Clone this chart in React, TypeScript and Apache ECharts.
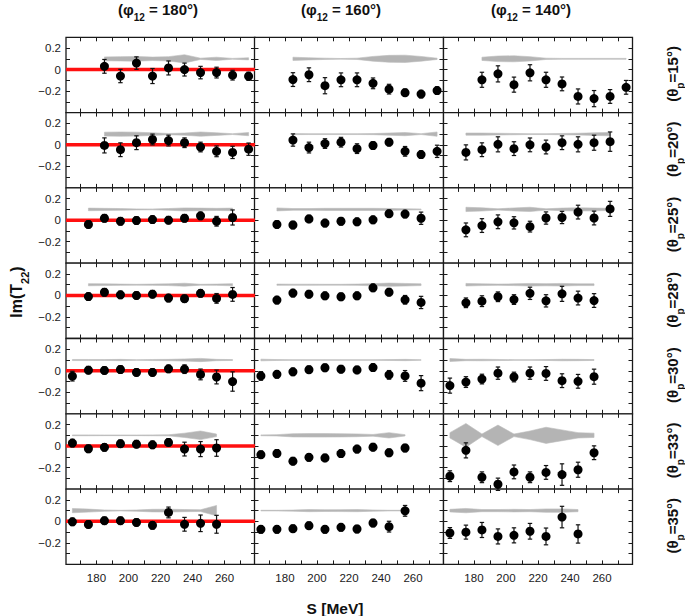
import React, { useEffect, useRef } from 'react';
import * as echarts from 'echarts';

// ---------- labels ----------
const phiLabels = ['180°', '160°', '140°'];
const thetaLabels = ['15°', '20°', '25°', '28°', '30°', '33°', '35°'];
const xTickValues = [170, 180, 190, 200, 210, 220, 230, 240, 250, 260, 270];
const xLabelValues = [180, 200, 220, 240, 260];
const yTickValues = [-0.3, -0.2, -0.1, 0, 0.1, 0.2];
const yLabelValues = [-0.2, 0, 0.2];

// first S value [MeV] of each panel (rows: theta_p, cols: phi_12), step 10 MeV
const startS = [
  [185, 185, 185],
  [185, 185, 175],
  [175, 175, 175],
  [175, 175, 175],
  [165, 165, 165],
  [165, 165, 165],
  [165, 165, 165],
];

// ---------- Im(T22) values ----------
const val15 = [
  [0.03, -0.06, 0.06, -0.06, 0.015, 0.0, -0.028, -0.028, -0.052, -0.062],
  [-0.093, -0.048, -0.15, -0.095, -0.095, -0.128, -0.182, -0.215, -0.228, -0.195],
  [-0.095, -0.04, -0.14, -0.03, -0.095, -0.133, -0.25, -0.27, -0.25, -0.165],
];
const val20 = [
  [-0.005, -0.045, 0.02, 0.05, 0.04, 0.02, -0.02, -0.06, -0.07, -0.04],
  [0.045, -0.025, 0.012, 0.025, -0.035, -0.006, 0.025, -0.06, -0.09, -0.06],
  [-0.07, -0.045, 0.005, -0.035, 0.0, -0.02, 0.02, 0.005, 0.02, 0.03],
];
const val25 = [
  [-0.04, 0.018, -0.01, -0.003, 0.006, 0.0, 0.018, 0.04, -0.01, 0.025],
  [-0.04, -0.045, 0.012, -0.027, -0.01, -0.015, 0.003, 0.06, 0.057, 0.018],
  [-0.09, -0.05, -0.015, -0.025, -0.06, 0.02, 0.025, 0.075, 0.02, 0.105],
];
const val28 = [
  [-0.01, 0.03, 0.006, 0.0, 0.012, -0.024, -0.03, 0.02, -0.027, 0.01],
  [-0.043, 0.022, 0.012, -0.003, -0.012, -0.003, 0.071, 0.031, -0.04, -0.065],
  [-0.068, -0.053, -0.012, -0.038, 0.02, -0.05, 0.015, -0.024, -0.047],
];
const val30 = [
  [-0.05, 0.006, 0.003, 0.012, -0.015, -0.015, 0.018, 0.015, -0.034, -0.058, -0.1],
  [-0.048, -0.033, -0.01, 0.01, 0.028, 0.015, 0.008, 0.03, -0.038, -0.048, -0.115],
  [-0.138, -0.105, -0.077, -0.022, -0.058, -0.022, -0.025, -0.092, -0.098, -0.055],
];
const val33 = [
  [0.028, -0.025, -0.012, 0.022, 0.018, 0.012, 0.034, -0.028, -0.028, -0.018],
  [-0.08, -0.068, -0.14, -0.105, -0.11, -0.07, -0.028, -0.01, -0.062, -0.018],
  [-0.28, -0.04, -0.29, -0.355, -0.24, -0.29, -0.245, -0.265, -0.22, -0.062],
];
const val35 = [
  [-0.004, -0.028, 0.006, 0.006, -0.01, -0.037, 0.083, -0.027, -0.018, -0.027],
  [-0.074, -0.074, -0.068, -0.04, -0.074, -0.055, -0.071, -0.015, -0.049, 0.098],
  [-0.108, -0.1, -0.08, -0.14, -0.13, -0.092, -0.14, 0.04, -0.117],
];

// ---------- statistical errors (half length of the error bar) ----------
const err15 = [
  [0.064, 0.062, 0.058, 0.07, 0.065, 0.06, 0.058, 0.05, 0.045, 0.038],
  [0.064, 0.064, 0.075, 0.064, 0.064, 0.05, 0.045, 0.035, 0.035, 0.035],
  [0.07, 0.075, 0.07, 0.075, 0.07, 0.064, 0.07, 0.075, 0.064, 0.064],
];
const err20 = [
  [0.07, 0.064, 0.064, 0.05, 0.05, 0.045, 0.045, 0.05, 0.057, 0.057],
  [0.057, 0.05, 0.045, 0.045, 0.045, 0.035, 0.035, 0.045, 0.035, 0.057],
  [0.07, 0.064, 0.07, 0.064, 0.064, 0.064, 0.064, 0.07, 0.07, 0.09],
];
const err25 = [
  [0.035, 0.035, 0.035, 0.035, 0.035, 0.035, 0.035, 0.035, 0.045, 0.07],
  [0.035, 0.035, 0.035, 0.035, 0.035, 0.035, 0.035, 0.035, 0.035, 0.057],
  [0.064, 0.064, 0.064, 0.057, 0.05, 0.057, 0.057, 0.064, 0.064, 0.07],
];
const err28 = [
  [0.035, 0.035, 0.035, 0.035, 0.035, 0.035, 0.035, 0.035, 0.045, 0.064],
  [0.035, 0.035, 0.035, 0.035, 0.035, 0.035, 0.035, 0.035, 0.04, 0.057],
  [0.045, 0.05, 0.045, 0.045, 0.057, 0.057, 0.07, 0.064, 0.064],
];
const err30 = [
  [0.045, 0.035, 0.035, 0.035, 0.035, 0.035, 0.035, 0.04, 0.05, 0.064, 0.09],
  [0.04, 0.035, 0.035, 0.035, 0.035, 0.035, 0.035, 0.035, 0.04, 0.05, 0.07],
  [0.07, 0.05, 0.045, 0.057, 0.045, 0.057, 0.064, 0.064, 0.064, 0.07],
];
const err33 = [
  [0.035, 0.035, 0.035, 0.035, 0.035, 0.035, 0.035, 0.064, 0.07, 0.077],
  [0.035, 0.035, 0.035, 0.035, 0.035, 0.035, 0.035, 0.035, 0.035, 0.035],
  [0.05, 0.07, 0.05, 0.057, 0.064, 0.05, 0.064, 0.1, 0.07, 0.064],
];
const err35 = [
  [0.035, 0.035, 0.035, 0.035, 0.035, 0.035, 0.05, 0.064, 0.077, 0.083],
  [0.035, 0.035, 0.035, 0.035, 0.035, 0.035, 0.035, 0.035, 0.05, 0.05],
  [0.05, 0.065, 0.07, 0.07, 0.07, 0.073, 0.078, 0.1, 0.085],
];

// ---------- systematic-error band half widths (band drawn around 0.1) ----------
const sys15 = [
  [0.018, 0.02, 0.022, 0.016, 0.02, 0.038, 0.006, 0.015, 0.004, 0.01],
  [0.015, 0.01, 0.006, 0.003, 0.006, 0.022, 0.032, 0.034, 0.022, 0.006],
  [0.015, 0.026, 0.028, 0.02, 0.006, 0.004, 0.004, 0.004, 0.004, 0.004],
];
const sys20 = [
  [0.018, 0.02, 0.018, 0.012, 0.006, 0.01, 0.02, 0.012, 0.004, 0.015],
  [0.005, 0.004, 0.004, 0.004, 0.004, 0.005, 0.01, 0.015, 0.004, 0.02],
  [0.01, 0.01, 0.008, 0.006, 0.004, 0.004, 0.006, 0.008, 0.012, 0.016],
];
const sys25 = [
  [0.012, 0.01, 0.008, 0.005, 0.004, 0.008, 0.014, 0.012, 0.01, 0.012],
  [0.014, 0.008, 0.008, 0.01, 0.01, 0.01, 0.01, 0.009, 0.006, 0.004],
  [0.02, 0.015, 0.006, 0.014, 0.02, 0.006, 0.012, 0.015, 0.013, 0.01],
];
const sys28 = [
  [0.01, 0.008, 0.006, 0.004, 0.006, 0.008, 0.014, 0.004, 0.006, 0.01],
  [0.006, 0.005, 0.005, 0.004, 0.004, 0.006, 0.01, 0.015, 0.012, 0.008],
  [0.012, 0.008, 0.006, 0.008, 0.012, 0.01, 0.012, 0.008, 0.008],
];
const sys30 = [
  [0.005, 0.005, 0.004, 0.006, 0.003, 0.005, 0.006, 0.01, 0.015, 0.006, 0.004],
  [0.008, 0.004, 0.003, 0.003, 0.003, 0.003, 0.003, 0.003, 0.004, 0.006, 0.003],
  [0.014, 0.006, 0.007, 0.005, 0.003, 0.003, 0.004, 0.007, 0.006, 0.004],
];
const sys33 = [
  [0.004, 0.004, 0.003, 0.003, 0.003, 0.004, 0.005, 0.02, 0.04, 0.012],
  [0.004, 0.006, 0.015, 0.016, 0.016, 0.015, 0.013, 0.008, 0.025, 0.006],
  [0.025, 0.11, 0.012, 0.095, 0.012, 0.04, 0.075, 0.05, 0.025, 0.02],
];
const sys35 = [
  [0.02, 0.014, 0.006, 0.003, 0.006, 0.012, 0.013, 0.01, 0.008, 0.048],
  [0.003, 0.003, 0.005, 0.01, 0.008, 0.009, 0.01, 0.006, 0.003, 0.003],
  [0.012, 0.02, 0.01, 0.01, 0.012, 0.01, 0.016, 0.016, 0.01],
];

const valueRows = [val15, val20, val25, val28, val30, val33, val35];
const errorRows = [err15, err20, err25, err28, err30, err33, err35];
const sysRows = [sys15, sys20, sys25, sys28, sys30, sys33, sys35];

// ---------- layout ----------
const FONT = 'Liberation Sans, Arial, Helvetica, sans-serif';
const colLeft = [66, 254.5, 443.5];
const colWidth = 189;
const rowTop0 = 37.3;
const rowHeight = 75.3;
const BAND_CENTER = 0.1;
const X_MIN = 161;
const X_MAX = 279;

function fmtY(v: number) {
  const r = Math.round(v * 10) / 10;
  if (r === 0) return '0';
  return r < 0 ? '\u2212' + Math.abs(r).toFixed(1) : r.toFixed(1);
}

function buildOption() {
  const grid: any[] = [];
  const xAxis: any[] = [];
  const yAxis: any[] = [];
  const series: any[] = [];
  const tickStyle = { color: '#1a1a1a', width: 1 };

  for (let r = 0; r < 7; r++) {
    for (let c = 0; c < 3; c++) {
      const idx = r * 3 + c;
      grid.push({
        left: colLeft[c],
        top: rowTop0 + r * rowHeight,
        width: colWidth,
        height: rowHeight,
        show: true,
        borderColor: '#1a1a1a',
        borderWidth: 1.3,
        backgroundColor: '#ffffff',
        containLabel: false,
      });
      const xBase = {
        gridIndex: idx,
        type: 'value',
        min: X_MIN,
        max: X_MAX,
        axisLine: { show: false, onZero: false },
        splitLine: { show: false },
        axisTick: { show: true, inside: true, length: 4, customValues: xTickValues, lineStyle: tickStyle },
      };
      xAxis.push({
        ...xBase,
        position: 'bottom',
        axisLabel: {
          show: r === 6,
          customValues: xLabelValues,
          fontSize: 11.5,
          color: '#1a1a1a',
          fontFamily: FONT,
          margin: 8,
        },
      });
      xAxis.push({ ...xBase, position: 'top', axisLabel: { show: false } });
      const yBase = {
        gridIndex: idx,
        type: 'value',
        min: -0.4,
        max: 0.3,
        axisLine: { show: false, onZero: false },
        splitLine: { show: false },
        axisTick: { show: true, inside: true, length: 4, customValues: yTickValues, lineStyle: tickStyle },
      };
      yAxis.push({
        ...yBase,
        position: 'left',
        axisLabel: {
          show: c === 0,
          customValues: yLabelValues,
          formatter: (v: number) => fmtY(v),
          fontSize: 11.5,
          color: '#1a1a1a',
          fontFamily: FONT,
          margin: 5,
        },
      });
      yAxis.push({ ...yBase, position: 'right', axisLabel: { show: false } });

      const vals = valueRows[r][c];
      const errs = errorRows[r][c];
      const sys = sysRows[r][c];
      const xs = vals.map((_, i) => startS[r][c] + 10 * i);
      const axisRef = { xAxisIndex: idx * 2, yAxisIndex: idx * 2 };

      if (c === 0) {
        series.push({
          type: 'line',
          ...axisRef,
          data: [[X_MIN, 0], [X_MAX, 0]],
          symbol: 'none',
          silent: true,
          lineStyle: { color: '#ff1010', width: 3.5 },
          z: 2,
        });
      }

      // systematic band
      series.push({
        type: 'custom',
        ...axisRef,
        silent: true,
        z: 1,
        data: [[xs[0], BAND_CENTER]],
        encode: { x: 0, y: 1 },
        renderItem: (_params: any, api: any) => {
          const top = xs.map((x, i) => api.coord([x, BAND_CENTER + sys[i]]));
          const bot = xs.map((x, i) => api.coord([x, BAND_CENTER - sys[i]])).reverse();
          return {
            type: 'polygon',
            shape: { points: top.concat(bot) },
            style: { fill: '#b4b4b4', stroke: '#bcbcbc', lineWidth: 0.6 },
          };
        },
      });

      // error bars
      series.push({
        type: 'custom',
        ...axisRef,
        silent: true,
        z: 3,
        data: xs.map((x, i) => [x, vals[i], errs[i]]),
        encode: { x: 0, y: 1 },
        renderItem: (_params: any, api: any) => {
          const x = api.value(0);
          const y = api.value(1);
          const e = api.value(2);
          const hi = api.coord([x, y + e]);
          const lo = api.coord([x, y - e]);
          const cw = 2.2;
          const st = { stroke: '#111', lineWidth: 1.2 };
          return {
            type: 'group',
            children: [
              { type: 'line', shape: { x1: hi[0], y1: hi[1], x2: lo[0], y2: lo[1] }, style: st },
              { type: 'line', shape: { x1: hi[0] - cw, y1: hi[1], x2: hi[0] + cw, y2: hi[1] }, style: st },
              { type: 'line', shape: { x1: lo[0] - cw, y1: lo[1], x2: lo[0] + cw, y2: lo[1] }, style: st },
            ],
          };
        },
      });

      // data points
      series.push({
        type: 'scatter',
        ...axisRef,
        silent: true,
        z: 4,
        symbol: 'circle',
        symbolSize: 9,
        itemStyle: { color: '#000000', opacity: 1 },
        data: xs.map((x, i) => [x, vals[i]]),
      });
    }
  }

  const mainRich = (size: number) => ({
    a: { fontSize: size, fontWeight: 'bold', fontFamily: FONT, fill: '#111', lineHeight: size + 1, verticalAlign: 'top' },
    s: {
      fontSize: Math.round(size * 0.68),
      fontWeight: 'bold',
      fontFamily: FONT,
      fill: '#111',
      lineHeight: Math.round(size * 0.68),
      padding: [Math.round(size * 0.68), 0, 0, 0],
      verticalAlign: 'top',
    },
  });

  const titleCenters = [158, 341, 531];
  const graphic: any[] = [];
  phiLabels.forEach((p, i) => {
    graphic.push({
      type: 'text',
      x: titleCenters[i],
      y: 2,
      style: {
        text: `{a|(\u03c6}{s|12}{a| = ${p})}`,
        align: 'center',
        verticalAlign: 'top',
        rich: mainRich(15),
      },
    });
  });
  thetaLabels.forEach((t, i) => {
    graphic.push({
      type: 'text',
      x: 673,
      y: rowTop0 + i * rowHeight + rowHeight / 2 - 1,
      rotation: Math.PI / 2,
      style: {
        text: `{a|(\u03b8}{s|p}{a|=${t})}`,
        align: 'center',
        verticalAlign: 'middle',
        rich: mainRich(15),
      },
    });
  });
  graphic.push({
    type: 'text',
    x: 17,
    y: 292,
    rotation: Math.PI / 2,
    style: {
      text: '{a|Im(T}{s|22}{a|)}',
      align: 'center',
      verticalAlign: 'middle',
      rich: mainRich(16),
    },
  });
  graphic.push({
    type: 'text',
    x: 335,
    y: 608,
    style: {
      text: 'S [MeV]',
      align: 'center',
      verticalAlign: 'middle',
      fontSize: 15.5,
      fontWeight: 'bold',
      fontFamily: FONT,
      fill: '#111',
    },
  });

  return {
    animation: false,
    backgroundColor: '#ffffff',
    grid,
    xAxis,
    yAxis,
    series,
    graphic,
  };
}

export default function App() {
  const ref = useRef<HTMLDivElement>(null);
  useEffect(() => {
    if (!ref.current) return;
    const chart = echarts.init(ref.current, undefined, { renderer: 'svg' });
    chart.setOption(buildOption() as any);
    return () => chart.dispose();
  }, []);
  return (
    <div
      ref={ref}
      style={{ position: 'absolute', left: 0, top: 0, width: 685, height: 616 }}
    />
  );
}
